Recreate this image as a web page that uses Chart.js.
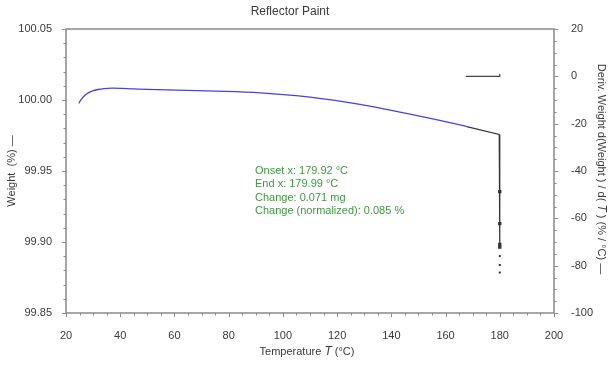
<!DOCTYPE html>
<html>
<head>
<meta charset="utf-8">
<script src="https://cdn.jsdelivr.net/npm/chart.js@4.4.1/dist/chart.umd.min.js"></script>
<style>
  html, body { margin: 0; padding: 0; background: #fff; }
  #wrap { width: 613px; height: 367px; position: relative; }
</style>
</head>
<body>
<div id="wrap"><canvas id="graph"></canvas></div>
<script>
// Weight curve (blue)
const weightTemp = [24.7, 25.3, 26.0, 27.0, 28.2, 29.8, 31.8, 34.0, 37.0, 45.0, 56.9, 75.3, 91.6, 110.0, 128.4, 143.2, 161.6, 167.8]
const weightPct = [99.9976, 99.9995, 100.0013, 100.0033, 100.0050, 100.0064, 100.0074, 100.0080, 100.0083, 100.0078, 100.0071, 100.0062, 100.0050, 100.0020, 99.9969, 99.9915, 99.9841, 99.9813]

// Step analysis segment (black) and the drop at the end of the run
const stepTemp = [167.8, 179.8, 180.0, 180.0, 180.0, 180.0]
const stepWeight = [99.9813, 99.9757, 99.9355, 99.9129, 99.8983, 99.8964]
const tailTemp = [180.0, 180.0, 180.0]
const tailWeight = [99.8901, 99.8838, 99.8785]

// Derivative trace (right axis)
const derivTemp = [167.5, 180.0, 180.0]
const derivValue = [0, 0, 1]

const annotationLines = [
  'Onset x: 179.92 °C',
  'End x: 179.99 °C',
  'Change: 0.071 mg',
  'Change (normalized): 0.085 %',
]

const FONT = '"Liberation Sans", Arial, sans-serif'
const AXIS_GREY = '#8a8a8a'
const TEXT_GREY = '#3a3a3a'

function toPoints(xs, ys) {
  return xs.map((x, i) => ({ x: x, y: ys[i] }))
}

/**
 * Frame, major/minor tick marks, titles and the step annotation.
 */
const decorPlugin = {
  id: 'decor',
  afterDraw(chart) {
    const ctx = chart.ctx
    const area = chart.chartArea
    const sx = chart.scales.x
    const sy = chart.scales.y
    const sy1 = chart.scales.y1

    ctx.save()
    ctx.strokeStyle = AXIS_GREY
    ctx.lineWidth = 1.5
    ctx.strokeRect(area.left, area.top, area.right - area.left, area.bottom - area.top)

    ctx.lineWidth = 1
    // x ticks every 5, major every 20
    for (let v = 20; v <= 200; v += 5) {
      const px = Math.round(sx.getPixelForValue(v)) + 0.5
      const len = v % 20 === 0 ? 4 : 2.5
      ctx.beginPath()
      ctx.moveTo(px, area.bottom)
      ctx.lineTo(px, area.bottom + len)
      ctx.stroke()
    }
    // left ticks every 0.01, major every 0.05
    for (let i = 0; i <= 20; i++) {
      const py = Math.round(sy.getPixelForValue(99.85 + i * 0.01)) + 0.5
      const len = i % 5 === 0 ? 4 : 2.5
      ctx.beginPath()
      ctx.moveTo(area.left, py)
      ctx.lineTo(area.left - len, py)
      ctx.stroke()
    }
    // right ticks every 5, major every 20
    for (let v = -100; v <= 20; v += 5) {
      const py = Math.round(sy1.getPixelForValue(v)) + 0.5
      const len = v % 20 === 0 ? 4 : 2.5
      ctx.beginPath()
      ctx.moveTo(area.right, py)
      ctx.lineTo(area.right + len, py)
      ctx.stroke()
    }

    // title
    ctx.fillStyle = TEXT_GREY
    ctx.font = '12px ' + FONT
    ctx.textAlign = 'center'
    ctx.textBaseline = 'middle'
    ctx.fillText('Reflector Paint', 290, 12)

    // axis titles
    const midY = (area.top + area.bottom) / 2
    drawParts(ctx, [['Temperature ', false], ['T', true], [' (°C)', false]], 307, 352, 0)
    drawParts(ctx, [['Weight  (%) —', false]], 12, midY, -Math.PI / 2)
    drawParts(ctx, [['Deriv. Weight d(Weight ) / d( ', false], ['T', true], [' ) (% / °C) —', false]], 601, midY - 2, Math.PI / 2)

    // annotation
    ctx.fillStyle = '#3f9a3f'
    ctx.font = '11px ' + FONT
    ctx.textAlign = 'left'
    ctx.textBaseline = 'middle'
    annotationLines.forEach((line, i) => {
      ctx.fillText(line, 255, 171 + i * 13.3)
    })
    ctx.restore()
  },
}

function drawParts(ctx, parts, cx, cy, angle) {
  ctx.save()
  ctx.translate(cx, cy)
  ctx.rotate(angle)
  ctx.fillStyle = TEXT_GREY
  ctx.textBaseline = 'middle'
  ctx.textAlign = 'left'
  let total = 0
  parts.forEach(([txt, it]) => {
    ctx.font = (it ? 'italic 12px ' : '11px ') + FONT
    total += ctx.measureText(txt).width
  })
  let x = -total / 2
  parts.forEach(([txt, it]) => {
    ctx.font = (it ? 'italic 12px ' : '11px ') + FONT
    ctx.fillText(txt, x, 0)
    x += ctx.measureText(txt).width
  })
  ctx.restore()
}

const tickFont = { family: FONT, size: 11 }

new Chart(document.getElementById('graph'), {
  type: 'scatter',
  data: {
    datasets: [
      {
        data: toPoints(weightTemp, weightPct),
        showLine: true,
        borderColor: '#4444dd',
        borderWidth: 1.3,
        pointRadius: 0,
        cubicInterpolationMode: 'monotone',
        yAxisID: 'y',
      },
      {
        data: toPoints(stepTemp, stepWeight),
        showLine: true,
        borderColor: '#333',
        backgroundColor: '#333',
        borderWidth: 1.2,
        pointRadius: [0, 0, 1.5, 1.5, 1.5, 1.5],
        pointStyle: 'rect',
        yAxisID: 'y',
      },
      {
        data: toPoints(tailTemp, tailWeight),
        showLine: false,
        backgroundColor: '#333',
        borderWidth: 0,
        pointRadius: 1.4,
        pointStyle: 'rect',
        yAxisID: 'y',
      },
      {
        data: toPoints(derivTemp, derivValue),
        showLine: true,
        borderColor: '#444',
        borderWidth: 1.2,
        pointRadius: 0,
        yAxisID: 'y1',
      },
    ],
  },
  options: {
    responsive: true,
    maintainAspectRatio: false,
    animation: false,
    layout: { padding: { top: 29, left: 0, right: 0, bottom: 0 } },
    plugins: {
      legend: { display: false },
      title: { display: false },
      tooltip: { enabled: false },
    },
    scales: {
      x: {
        type: 'linear',
        min: 20,
        max: 200,
        grid: { display: false },
        border: { display: false },
        ticks: { stepSize: 20, padding: 8, color: TEXT_GREY, font: tickFont, maxRotation: 0 },
        afterFit: (s) => { s.height = 54 },
      },
      y: {
        type: 'linear',
        position: 'left',
        min: 99.85,
        max: 100.05,
        grid: { display: false },
        border: { display: false },
        ticks: {
          stepSize: 0.05,
          padding: 6,
          color: TEXT_GREY,
          font: tickFont,
          callback: (v) => Number(v).toFixed(2),
        },
        afterFit: (s) => { s.width = 66 },
      },
      y1: {
        type: 'linear',
        position: 'right',
        min: -100,
        max: 20,
        grid: { display: false },
        border: { display: false },
        ticks: { stepSize: 20, padding: 9, color: TEXT_GREY, font: tickFont },
        afterFit: (s) => { s.width = 59 },
      },
    },
  },
  plugins: [decorPlugin],
})
</script>
</body>
</html>
